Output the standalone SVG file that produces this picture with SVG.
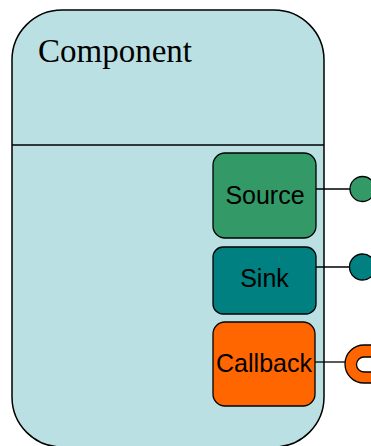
<svg xmlns="http://www.w3.org/2000/svg" width="371" height="446" viewBox="0 0 371 446">
<style>
.box{stroke:#000;stroke-width:1.3}
.lbl{font-family:"Liberation Sans",Arial,sans-serif;font-size:25px;text-anchor:middle;fill:#000}
.conn{stroke:#000;stroke-width:1.3;fill:none}
</style>
<g id="component">
<rect x="12" y="10" width="312" height="437" rx="50" ry="50" fill="#bbe0e3" stroke="#000" stroke-width="1.5"/>
<line x1="12" y1="145" x2="324" y2="145" stroke="#000" stroke-width="1.5"/>
<text x="38" y="62" font-family="'Liberation Serif','Times New Roman',serif" font-size="33" fill="#000">Component</text>
</g>
<g id="connectors">
<line class="conn" x1="316" y1="189" x2="350" y2="189"/>
<line class="conn" x1="316" y1="267" x2="349" y2="267"/>
<line class="conn" x1="315" y1="362" x2="345" y2="362"/>
</g>
<g id="source">
<rect class="box" x="213" y="153" width="103" height="85" rx="12" fill="#339966"/>
<text class="lbl" x="265" y="204">Source</text>
</g>
<g id="sink">
<rect class="box" x="213" y="247" width="103" height="67" rx="10" fill="#008080"/>
<text class="lbl" x="264.5" y="287">Sink</text>
</g>
<g id="callback">
<rect class="box" x="213" y="322" width="102" height="84" rx="12" fill="#ff6600"/>
<text class="lbl" x="264" y="372">Callback</text>
</g>
<g id="source-port">
<circle class="box" cx="362.5" cy="189" r="12.5" fill="#339966"/>
</g>
<g id="sink-port">
<circle class="box" cx="362.5" cy="267" r="13" fill="#008080"/>
</g>
<g id="callback-port">
<path class="box" d="M372 345 L364 345 A19 19 0 0 0 364 383 L372 383 L372 372 L364 372 A7.5 7.5 0 0 1 364 357 L372 357 Z" fill="#ff6600"/>
</g>
</svg>
